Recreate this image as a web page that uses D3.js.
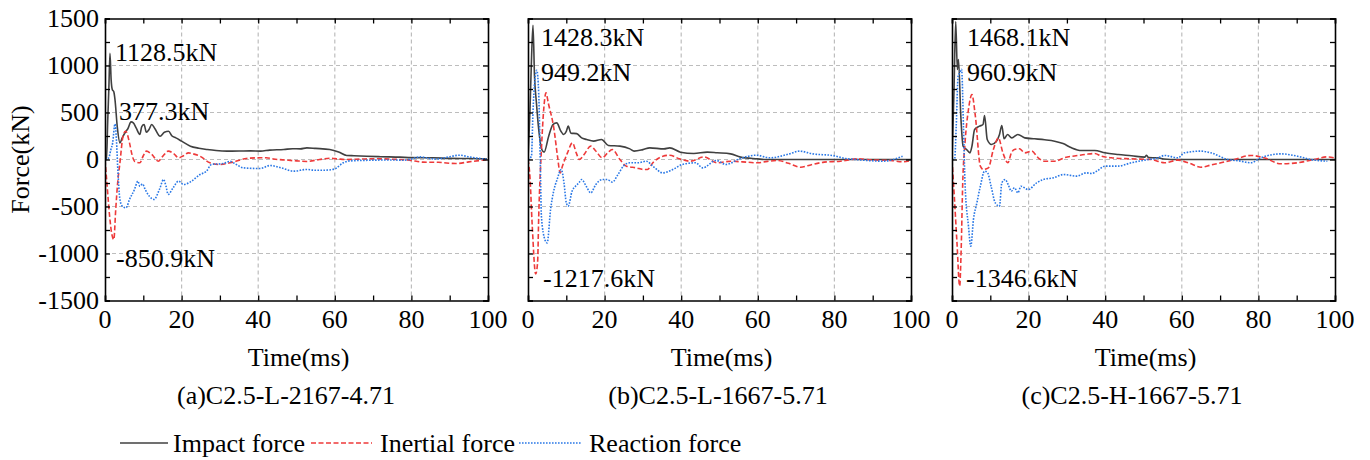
<!DOCTYPE html>
<html><head><meta charset="utf-8">
<script src="https://cdn.jsdelivr.net/npm/d3@7"></script>
<style>
html,body{margin:0;padding:0;background:#fff;}
</style></head>
<body><svg id="chart" width="1370" height="460"></svg>
<script>
// ---------------- DATA ----------------
const panelTitles = ["(a)C2.5-L-2167-4.71", "(b)C2.5-L-1667-5.71", "(c)C2.5-H-1667-5.71"];
const seriesNames = ["Impact force", "Inertial force", "Reaction force"];
const xTicks = [0, 20, 40, 60, 80, 100];
const yTicks = [-1500, -1000, -500, 0, 500, 1000, 1500];
const xLabel = "Time(ms)";
const yLabel = "Force(kN)";

const impactA = [[0,0],[0.4,0],[0.7,400],[1.0,750],[1.3,1128.5],[1.6,850],[1.9,745],[2.3,720],[2.6,640],[3.2,350],[3.9,177],[4.5,230],[5.3,290],[6.0,330],[6.8,400],[7.4,390],[8.2,330],[9.1,266],[9.6,350],[10.2,372],[10.8,290],[11.5,320],[12.2,372],[13.0,330],[14.4,248],[15.5,290],[16.6,300],[17.5,250],[18.5,230],[20,195],[22.3,142],[24.5,120],[26.7,106],[29,95],[31.9,89],[35,90],[38,92],[40.6,89],[43,100],[46.7,106],[49,115],[51,113],[52.7,124],[55,118],[58.7,106],[61,80],[63.1,43],[65,40],[68.3,35],[72,30],[77,25],[80,20],[85.7,18],[90,12],[95,10],[99.7,7]];
const inertialA = [[0,0],[0.5,-250],[1.2,-600],[1.8,-800],[2.3,-850.9],[2.8,-532],[3.3,-250],[3.9,-35],[4.7,248],[5.4,301],[6.4,177],[7.0,60],[7.7,-18],[9.1,-35],[10.0,40],[10.8,89],[12.2,55],[13.9,-18],[15.0,30],[16.5,89],[18,60],[19.2,18],[20.5,40],[21.8,71],[23,60],[24.8,35],[27.4,-35],[30,-53],[33.4,-28],[36.9,11],[40.5,18],[42.1,18],[44,5],[47.5,-7],[50,-15],[52.7,-21],[56,0],[58.7,14],[61,5],[63,0],[67,5],[70.8,8],[75,3],[79.5,-7],[83,-28],[87,-30],[91.6,-43],[95,-25],[100,0]];
const reactionA = [[0,0],[1.0,20],[1.5,100],[2.0,177],[2.6,377.3],[3.0,200],[3.3,-71],[3.9,-425],[4.5,-496],[5.5,-514],[6.4,-425],[7.7,-319],[8.6,-230],[9.1,-284],[9.8,-260],[10.5,-320],[12.8,-425],[14.2,-320],[15.3,-213],[15.9,-280],[16.5,-372],[17.8,-300],[19.2,-230],[20.5,-266],[22.6,-230],[24.8,-160],[26.5,-124],[27.8,-53],[30.9,-43],[32.6,-20],[34.3,-53],[36.1,-89],[40.5,-96],[43.1,-64],[46,-89],[49.2,-124],[52.7,-106],[55,-115],[57.9,-113],[60,-100],[62.2,-35],[63.9,-15],[69.1,-8],[75,-5],[77.8,-8],[80,5],[82.2,28],[85,10],[86.5,5],[90,30],[92.5,46],[95,28],[100,0]];

const impactB = [[0,0],[0.5,500],[0.9,1050],[1.3,1428.3],[1.7,887],[2.2,603],[2.8,320],[3.6,106],[4.2,78],[5.4,248],[6.5,372],[7.5,390],[8.6,300],[9.3,266],[10.0,300],[10.5,355],[11.2,280],[12.7,275],[14,230],[15.3,213],[17.1,195],[19.2,213],[21,149],[24,142],[26.6,113],[27.7,89],[30,105],[31.8,124],[35.5,113],[37,124],[39.8,78],[43.3,64],[46.8,78],[49.4,71],[52.9,60],[55.5,25],[59.9,7],[62,0],[100,0]];
const inertialB = [[0,0],[0.5,-180],[1.1,-700],[2.0,-1217.6],[2.5,-1100],[2.8,-603],[3.5,106],[4.1,532],[4.7,709],[5.3,600],[6.8,319],[7.7,35],[8.4,-142],[9.0,-70],[10.3,70],[11.6,177],[12.6,70],[13.4,0],[14.6,50],[16.4,142],[17.7,90],[19.4,18],[20.8,70],[22,106],[24,0],[25.7,-71],[28.3,-89],[30.1,-106],[31.2,-106],[32.6,-35],[35.2,35],[37,46],[39.5,7],[42.4,-18],[45.9,28],[49.4,-35],[52.9,-18],[56,-25],[59.9,-35],[62.5,-20],[65.1,-10],[68,-40],[71.2,-82],[74,-55],[77.3,-28],[81.6,-18],[86,7],[90,-5],[94.7,-10],[97.8,-25],[100,-10]];
const reactionB = [[0,0],[0.9,35],[1.3,500],[1.8,850],[2.3,949.2],[2.8,700],[3.2,0],[3.5,-603],[4.4,-851],[5.0,-887],[5.9,-530],[6.7,-337],[7.6,-213],[8.7,-106],[9.4,-250],[10.0,-461],[10.5,-496],[11.5,-337],[12.4,-285],[13.3,-248],[14.0,-213],[15.2,-285],[16.4,-355],[17.7,-266],[19.4,-213],[20.7,-213],[22.0,-241],[23.5,-160],[24.9,-71],[26.6,-35],[28.8,-35],[30.9,-18],[32.6,-71],[35.2,-142],[37.8,-106],[40.3,-53],[43.8,-35],[45.6,-89],[49.1,-10],[51.7,-53],[55.2,7],[59.6,46],[63.1,18],[68.3,60],[70.9,89],[74.3,60],[79.6,42],[83,10],[85.6,0],[92.6,-18],[95,-5],[97.8,35]];

const impactC = [[0,0],[0.5,700],[0.97,1468.1],[1.4,957],[1.7,1064],[2.3,461],[2.9,142],[3.8,106],[4.7,71],[5.2,140],[5.9,319],[7.2,355],[8.1,372],[8.5,468],[9.2,213],[10.3,160],[11.6,195],[12.4,266],[13.0,362],[13.6,220],[14.5,266],[15.6,230],[17.2,266],[19.0,230],[21.6,220],[24.2,210],[26.8,195],[29,170],[31.2,124],[33.8,95],[37.3,95],[39.9,71],[43.4,53],[46.9,40],[50.3,25],[50.8,45],[51.3,20],[53.6,18],[55.3,5],[57,0],[100,0]];
const inertialC = [[0,0],[0.6,-390],[1.3,-887],[2.0,-1346.6],[2.4,-950],[2.8,-250],[3.4,177],[4.3,532],[5.2,690],[6.1,461],[7.4,-71],[8.2,-106],[9.5,-89],[10.8,106],[12.1,230],[13.3,70],[14.6,-35],[15.5,70],[16.3,106],[17.6,115],[19,71],[20.8,90],[22.5,18],[24.2,-18],[26.8,-18],[29.5,20],[32.9,43],[35,55],[37.3,64],[39,35],[41.6,18],[46.8,7],[52,0],[55.5,-35],[59,-7],[62,-40],[65,-82],[67.5,-60],[70.2,-35],[73.7,0],[78,43],[81.5,18],[85.9,-46],[90.2,-35],[94.5,0],[98,28],[100,15]];
const reactionC = [[0,0],[0.7,10],[1.1,350],[1.6,887],[2.0,920],[2.5,960.9],[3.0,350],[3.4,-250],[4.3,-709],[4.9,-922],[5.6,-638],[6.5,-461],[7.4,-284],[8.5,-124],[9.3,-142],[10.2,-284],[11.3,-461],[12.4,-496],[13.0,-248],[13.9,-213],[14.7,-270],[15.5,-337],[16.3,-300],[17.2,-355],[18.0,-285],[19.9,-320],[22.1,-248],[23.8,-213],[26.5,-195],[29.1,-160],[32.5,-177],[35.1,-142],[36.4,-149],[37.8,-124],[39.9,-71],[43.3,-71],[46.8,-35],[50.3,-7],[53.8,18],[55.5,43],[59,18],[60.7,71],[65,89],[67.6,71],[72,0],[75,-15],[78,-35],[80.6,18],[85.9,60],[90.2,35],[93.7,0],[98,-18]];

const peakLabelsA = ["1128.5kN", "377.3kN", "-850.9kN"];
const peakLabelsB = ["1428.3kN", "949.2kN", "-1217.6kN"];
const peakLabelsC = ["1468.1kN", "960.9kN", "-1346.6kN"];

// ---------------- LAYOUT ----------------
const FONT = "Liberation Serif";
const svg = d3.select("#chart");
const panelX = [[105, 488], [528, 911], [952, 1335]];
const yTop = 18.5, yBot = 300.5;
const colors = ["#404040", "#ee3a3a", "#2a78e6"];
const dashes = [null, "5,2.5", "1.6,1.4"];
const fs = 26;

function txt(sel) { return sel.append("text").attr("font-family", FONT).attr("font-size", fs).attr("fill", "#000"); }

const panels = [
  {series:[impactA, inertialA, reactionA], labels: peakLabelsA, lab:[[115,61],[119,120],[116,267]], titleX: 286},
  {series:[impactB, inertialB, reactionB], labels: peakLabelsB, lab:[[541,46],[541,81],[543,287]], titleX: 718},
  {series:[impactC, inertialC, reactionC], labels: peakLabelsC, lab:[[967,46],[967,81],[966,287]], titleX: 1132}
];

panels.forEach((p, i) => {
  const x = d3.scaleLinear().domain([0, 100]).range(panelX[i]);
  const y = d3.scaleLinear().domain([-1500, 1500]).range([yBot, yTop]);
  const g = svg.append("g");

  // grid
  g.selectAll(".gx").data(xTicks.slice(1, -1)).enter().append("line")
    .attr("x1", d => x(d)).attr("x2", d => x(d)).attr("y1", yTop).attr("y2", yBot)
    .attr("stroke", "#bdbdbd").attr("stroke-width", 1.2).attr("stroke-dasharray", "4,3");
  g.selectAll(".gy").data(yTicks.slice(1, -1)).enter().append("line")
    .attr("y1", d => y(d)).attr("y2", d => y(d)).attr("x1", panelX[i][0]).attr("x2", panelX[i][1])
    .attr("stroke", "#bdbdbd").attr("stroke-width", 1.2).attr("stroke-dasharray", "4,3");

  // series
  const line = d3.line().x(d => x(d[0])).y(d => y(d[1])).curve(d3.curveMonotoneX);
  const clipId = "clip" + i;
  svg.append("clipPath").attr("id", clipId).append("rect")
    .attr("x", panelX[i][0]).attr("y", yTop).attr("width", panelX[i][1] - panelX[i][0]).attr("height", yBot - yTop);
  p.series.forEach((s, k) => {
    g.append("path").datum(s).attr("d", line).attr("fill", "none")
      .attr("clip-path", `url(#${clipId})`)
      .attr("stroke", colors[k]).attr("stroke-width", 1.6)
      .attr("stroke-dasharray", dashes[k]);
  });

  // axes (ticks inward on all sides)
  const minorX = d3.range(0, 101, 10), minorY = d3.range(-1500, 1501, 250);
  const axB = d3.axisBottom(x).tickValues(minorX).tickSize(-5).tickFormat("");
  const axT = d3.axisTop(x).tickValues(minorX).tickSize(-5).tickFormat("");
  const axL = d3.axisLeft(y).tickValues(minorY).tickSize(-5).tickFormat("");
  const axR = d3.axisRight(y).tickValues(minorY).tickSize(-5).tickFormat("");
  [[axB, `translate(0,${yBot})`], [axT, `translate(0,${yTop})`], [axL, `translate(${panelX[i][0]},0)`], [axR, `translate(${panelX[i][1]},0)`]]
    .forEach(([ax, tr]) => {
      const a = g.append("g").attr("transform", tr).call(ax);
      a.select(".domain").attr("stroke", "#000").attr("stroke-width", 1.6);
      a.selectAll(".tick line").attr("stroke", "#000").attr("stroke-width", 1.3);
    });

  // tick labels
  xTicks.forEach(d => txt(g).attr("x", x(d)).attr("y", 328).attr("text-anchor", "middle").text(d));
  if (i === 0) {
    yTicks.forEach(d => txt(g).attr("x", 99).attr("y", y(d) + 8).attr("text-anchor", "end").text(d));
    txt(g).attr("transform", `translate(29,${(yTop + yBot) / 2}) rotate(-90)`)
      .attr("text-anchor", "middle").text(yLabel);
  }
  txt(g).attr("x", (panelX[i][0] + panelX[i][1]) / 2 + 2).attr("y", 366)
    .attr("text-anchor", "middle").text(xLabel);
  txt(g).attr("x", p.titleX).attr("y", 404).attr("text-anchor", "middle").text(panelTitles[i]);

  p.labels.forEach((t, k) => txt(g).attr("x", p.lab[k][0]).attr("y", p.lab[k][1]).text(t));
});

// legend
const legX = [[120, 168, 173], [311, 372, 380], [519, 581, 589]];
seriesNames.forEach((n, k) => {
  svg.append("line").attr("x1", legX[k][0]).attr("x2", legX[k][1]).attr("y1", 443).attr("y2", 443)
    .attr("stroke", colors[k]).attr("stroke-width", 1.6).attr("stroke-dasharray", dashes[k]);
  txt(svg).attr("x", legX[k][2]).attr("y", 452).text(n);
});
</script></body></html>
